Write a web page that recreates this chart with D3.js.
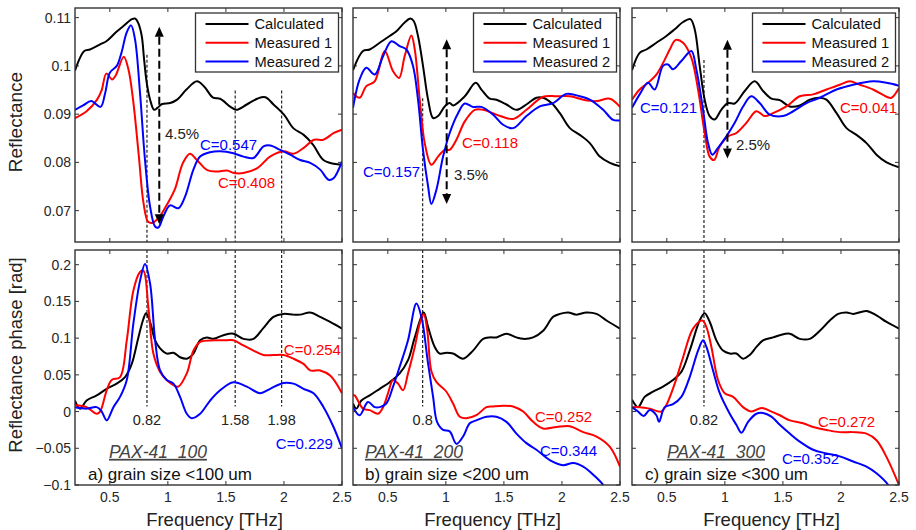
<!DOCTYPE html>
<html><head><meta charset="utf-8">
<script src="https://cdn.jsdelivr.net/npm/d3@7"></script>
<style>
html,body{margin:0;padding:0;background:#fff;}
svg{display:block;font-family:"Liberation Sans",Arial,Helvetica,sans-serif;}
</style></head>
<body><svg id="chart" width="916" height="530"></svg>
<script>
// ---------------- DATA ----------------
const seriesNames = ["Calculated", "Measured 1", "Measured 2"];
const freqTicks = [0.5, 1, 1.5, 2, 2.5];
const reflTicks = [0.07, 0.08, 0.09, 0.1, 0.11];
const phaseTicks = [-0.1, -0.05, 0, 0.05, 0.1, 0.15, 0.2];
const freqDomain = [0.2, 2.5];
const reflDomain = [0.0635, 0.112];
const phaseDomain = [-0.1, 0.22];

// Panel a: reflectance [freq THz, value]
const reflA_calc = [[0.20,0.0990],[0.24,0.1015],[0.28,0.1031],[0.33,0.1034],[0.42,0.1045],[0.47,0.1051],[0.55,0.1069],[0.62,0.1083],[0.69,0.1097],[0.72,0.1098],[0.746,0.1088],[0.775,0.1062],[0.795,0.1014],[0.818,0.0965],[0.847,0.0930],[0.881,0.0909],[0.91,0.0913],[0.95,0.0921],[1.02,0.0923],[1.08,0.0930],[1.16,0.0951],[1.25,0.0968],[1.31,0.0958],[1.39,0.0934],[1.45,0.0932],[1.54,0.0915],[1.59,0.0909],[1.68,0.0920],[1.77,0.0932],[1.84,0.0935],[1.91,0.0920],[2.00,0.0899],[2.08,0.0871],[2.17,0.0857],[2.25,0.0837],[2.34,0.0805],[2.43,0.0797],[2.50,0.0795]];
const reflA_m1 = [[0.20,0.0892],[0.30,0.0906],[0.39,0.0930],[0.43,0.0950],[0.47,0.0984],[0.52,0.0972],[0.55,0.0980],[0.62,0.1019],[0.66,0.0993],[0.70,0.0930],[0.75,0.0813],[0.79,0.0716],[0.83,0.0677],[0.87,0.0675],[0.93,0.0688],[1.00,0.0716],[1.06,0.0744],[1.13,0.0799],[1.19,0.0818],[1.25,0.0805],[1.34,0.0784],[1.42,0.0781],[1.51,0.0783],[1.57,0.0778],[1.65,0.0778],[1.77,0.0788],[1.88,0.0812],[2.00,0.0823],[2.08,0.0818],[2.17,0.0830],[2.26,0.0847],[2.34,0.0847],[2.43,0.0861],[2.50,0.0868]];
const reflA_m2 = [[0.20,0.0909],[0.27,0.0918],[0.34,0.0927],[0.42,0.0915],[0.46,0.0944],[0.50,0.0986],[0.56,0.1000],[0.60,0.1027],[0.645,0.1069],[0.683,0.1084],[0.717,0.1055],[0.76,0.0944],[0.803,0.0805],[0.847,0.0708],[0.89,0.0667],[0.918,0.0665],[0.961,0.0688],[1.019,0.0711],[1.091,0.0705],[1.148,0.0729],[1.22,0.0785],[1.278,0.0812],[1.364,0.0821],[1.45,0.0823],[1.565,0.0819],[1.651,0.0812],[1.737,0.0809],[1.824,0.0833],[1.881,0.0835],[1.967,0.0826],[2.053,0.0816],[2.14,0.0805],[2.226,0.0799],[2.312,0.0785],[2.384,0.0764],[2.427,0.0767],[2.5,0.0802]];
// Panel b: reflectance
const reflB_calc = [[0.2,0.0991],[0.286,0.1031],[0.344,0.1034],[0.43,0.1048],[0.516,0.1062],[0.574,0.1072],[0.645,0.1090],[0.694,0.1098],[0.723,0.1093],[0.76,0.1062],[0.803,0.1000],[0.847,0.0930],[0.89,0.0892],[0.933,0.0896],[0.99,0.0916],[1.033,0.0923],[1.062,0.0918],[1.163,0.0937],[1.257,0.0965],[1.306,0.0951],[1.378,0.0932],[1.436,0.0930],[1.522,0.0920],[1.608,0.0909],[1.694,0.0920],[1.78,0.0934],[1.838,0.0934],[1.91,0.0923],[1.982,0.0902],[2.068,0.0871],[2.154,0.0857],[2.24,0.0840],[2.326,0.0812],[2.413,0.0799],[2.5,0.0792]];
const reflB_m1 = [[0.2,0.0944],[0.257,0.0934],[0.315,0.0958],[0.387,0.0968],[0.473,0.1031],[0.545,0.0989],[0.597,0.0975],[0.645,0.1020],[0.703,0.1063],[0.732,0.1034],[0.775,0.0930],[0.818,0.0840],[0.875,0.0795],[0.933,0.0812],[0.99,0.0826],[1.033,0.0826],[1.091,0.0847],[1.163,0.0885],[1.249,0.0909],[1.321,0.0909],[1.436,0.0899],[1.579,0.0890],[1.694,0.0909],[1.838,0.0936],[1.953,0.0937],[2.068,0.0937],[2.183,0.0930],[2.298,0.0927],[2.413,0.0932],[2.5,0.0915]];
const reflB_m2 = [[0.2,0.0913],[0.257,0.0972],[0.315,0.0996],[0.387,0.0982],[0.459,0.1020],[0.531,0.1051],[0.602,0.1041],[0.66,0.1034],[0.717,0.1000],[0.76,0.0930],[0.803,0.0826],[0.847,0.0750],[0.875,0.0714],[0.918,0.0743],[0.976,0.0812],[1.033,0.0861],[1.105,0.0902],[1.163,0.0922],[1.234,0.0915],[1.306,0.0915],[1.407,0.0899],[1.493,0.0878],[1.579,0.0871],[1.694,0.0896],[1.809,0.0916],[1.924,0.0923],[2.039,0.0942],[2.154,0.0937],[2.24,0.0930],[2.355,0.0909],[2.441,0.0888],[2.5,0.0887]];
// Panel c: reflectance
const reflC_calc = [[0.2,0.0991],[0.266,0.1027],[0.324,0.1034],[0.41,0.1048],[0.496,0.1062],[0.568,0.1076],[0.64,0.1091],[0.703,0.1097],[0.74,0.1076],[0.783,0.1000],[0.826,0.0930],[0.869,0.0896],[0.912,0.0889],[0.969,0.0909],[1.027,0.0923],[1.084,0.0922],[1.171,0.0948],[1.257,0.0968],[1.329,0.0948],[1.401,0.0932],[1.473,0.0929],[1.559,0.0916],[1.645,0.0918],[1.732,0.0930],[1.818,0.0934],[1.875,0.0930],[1.962,0.0902],[2.048,0.0871],[2.134,0.0857],[2.22,0.0840],[2.306,0.0816],[2.393,0.0800],[2.5,0.0790]];
const reflC_m1 = [[0.2,0.0930],[0.266,0.0951],[0.338,0.0965],[0.41,0.0982],[0.482,0.1013],[0.525,0.1034],[0.577,0.1054],[0.64,0.1048],[0.711,0.1017],[0.769,0.0951],[0.826,0.0861],[0.869,0.0812],[0.907,0.0805],[0.955,0.0833],[1.027,0.0854],[1.099,0.0861],[1.185,0.0882],[1.271,0.0906],[1.343,0.0896],[1.415,0.0902],[1.53,0.0916],[1.645,0.0937],[1.76,0.0941],[1.875,0.0951],[1.99,0.0961],[2.076,0.0968],[2.162,0.0961],[2.277,0.0951],[2.393,0.0936],[2.436,0.0934],[2.5,0.0954]];
const reflC_m2 = [[0.2,0.0913],[0.266,0.0941],[0.338,0.0965],[0.395,0.0951],[0.467,0.1000],[0.51,0.1003],[0.553,0.0993],[0.625,0.1010],[0.711,0.1031],[0.754,0.0993],[0.812,0.0909],[0.855,0.0840],[0.892,0.0816],[0.941,0.0830],[1.013,0.0854],[1.085,0.0882],[1.157,0.0916],[1.228,0.0937],[1.3,0.0923],[1.387,0.0899],[1.502,0.0896],[1.588,0.0906],[1.703,0.0923],[1.818,0.0934],[1.962,0.0951],[2.105,0.0961],[2.278,0.0968],[2.393,0.0965],[2.5,0.0959]];
// Panel a: phase [rad]
const phaseA_calc = [[0.2,0.015],[0.243,0.004],[0.3,0.015],[0.387,0.022],[0.473,0.031],[0.559,0.038],[0.631,0.047],[0.689,0.065],[0.746,0.101],[0.789,0.126],[0.812,0.134],[0.847,0.122],[0.89,0.097],[0.933,0.086],[0.99,0.079],[1.048,0.080],[1.105,0.074],[1.163,0.072],[1.22,0.079],[1.278,0.097],[1.335,0.101],[1.393,0.099],[1.479,0.104],[1.565,0.106],[1.651,0.099],[1.737,0.099],[1.824,0.114],[1.91,0.129],[1.996,0.133],[2.082,0.132],[2.14,0.132],[2.226,0.135],[2.312,0.129],[2.398,0.122],[2.5,0.113]];
const phaseA_m1 = [[0.2,0.009],[0.3,0.006],[0.387,-0.003],[0.416,0.000],[0.473,0.029],[0.516,0.043],[0.588,0.047],[0.646,0.097],[0.703,0.165],[0.76,0.190],[0.789,0.192],[0.832,0.142],[0.875,0.079],[0.933,0.054],[0.99,0.043],[1.048,0.036],[1.09,0.034],[1.163,0.052],[1.22,0.083],[1.278,0.095],[1.393,0.097],[1.479,0.097],[1.565,0.097],[1.651,0.090],[1.737,0.083],[1.824,0.077],[1.91,0.077],[1.996,0.077],[2.082,0.072],[2.168,0.065],[2.226,0.056],[2.312,0.056],[2.398,0.049],[2.5,0.025]];
const phaseA_m2 = [[0.2,0.006],[0.3,0.004],[0.387,0.006],[0.43,0.000],[0.473,-0.012],[0.531,0.006],[0.588,0.020],[0.646,0.043],[0.703,0.120],[0.76,0.178],[0.803,0.201],[0.847,0.174],[0.89,0.097],[0.933,0.056],[0.99,0.043],[1.048,0.038],[1.105,0.020],[1.163,-0.003],[1.206,-0.009],[1.278,-0.003],[1.364,0.015],[1.45,0.029],[1.565,0.040],[1.68,0.034],[1.795,0.025],[1.881,0.031],[1.996,0.039],[2.082,0.038],[2.168,0.031],[2.255,0.025],[2.341,0.006],[2.427,-0.021],[2.5,-0.050]];
// Panel b: phase
const phaseB_calc = [[0.2,0.011],[0.229,0.004],[0.272,0.015],[0.344,0.022],[0.43,0.031],[0.516,0.040],[0.602,0.052],[0.674,0.070],[0.732,0.101],[0.809,0.135],[0.847,0.115],[0.904,0.088],[0.947,0.079],[1.005,0.080],[1.062,0.079],[1.148,0.072],[1.234,0.083],[1.321,0.099],[1.378,0.101],[1.436,0.101],[1.522,0.106],[1.608,0.101],[1.666,0.099],[1.752,0.101],[1.838,0.110],[1.924,0.129],[1.982,0.133],[2.053,0.135],[2.125,0.132],[2.211,0.135],[2.298,0.133],[2.384,0.124],[2.5,0.113]];
const phaseB_m1 = [[0.2,0.022],[0.214,0.022],[0.286,0.004],[0.344,0.002],[0.416,-0.003],[0.459,0.006],[0.502,0.025],[0.545,0.043],[0.588,0.038],[0.631,0.029],[0.674,0.052],[0.732,0.088],[0.775,0.120],[0.809,0.133],[0.84,0.110],[0.875,0.055],[0.92,0.040],[1.0,0.028],[1.062,0.011],[1.12,-0.007],[1.177,-0.009],[1.263,-0.005],[1.349,0.006],[1.407,0.007],[1.493,0.008],[1.579,0.007],[1.666,0.000],[1.752,-0.014],[1.838,-0.023],[1.953,-0.021],[2.068,-0.020],[2.183,-0.028],[2.298,-0.034],[2.413,-0.048],[2.5,-0.075]];
const phaseB_m2 = [[0.2,0.006],[0.257,-0.005],[0.329,0.013],[0.387,0.006],[0.43,0.006],[0.487,0.011],[0.545,0.034],[0.602,0.061],[0.674,0.097],[0.746,0.147],[0.789,0.129],[0.847,0.065],[0.89,0.020],[0.924,-0.014],[0.976,-0.025],[1.033,-0.027],[1.091,-0.044],[1.148,-0.034],[1.206,-0.016],[1.263,-0.012],[1.349,-0.007],[1.436,-0.007],[1.522,-0.014],[1.608,-0.030],[1.694,-0.043],[1.78,-0.052],[1.895,-0.066],[2.01,-0.073],[2.097,-0.070],[2.183,-0.075],[2.269,-0.086],[2.355,-0.100],[2.4,-0.115]];
// Panel c: phase
const phaseC_calc = [[0.2,0.016],[0.252,0.006],[0.309,0.020],[0.381,0.027],[0.467,0.034],[0.553,0.043],[0.625,0.054],[0.697,0.083],[0.783,0.124],[0.826,0.134],[0.87,0.122],[0.927,0.097],[0.984,0.083],[1.042,0.079],[1.099,0.079],[1.157,0.072],[1.214,0.077],[1.272,0.088],[1.329,0.097],[1.416,0.101],[1.473,0.104],[1.559,0.106],[1.645,0.099],[1.732,0.099],[1.818,0.110],[1.904,0.124],[1.976,0.133],[2.048,0.135],[2.105,0.133],[2.22,0.137],[2.306,0.131],[2.393,0.122],[2.5,0.113]];
const phaseC_m1 = [[0.2,0.006],[0.266,0.006],[0.352,0.004],[0.453,0.000],[0.496,0.009],[0.568,0.038],[0.64,0.074],[0.726,0.113],[0.806,0.124],[0.841,0.115],[0.884,0.088],[0.941,0.043],[0.999,0.025],[1.071,0.020],[1.157,0.006],[1.229,0.000],[1.315,0.005],[1.387,0.001],[1.473,-0.005],[1.559,-0.012],[1.674,-0.016],[1.76,-0.021],[1.875,-0.025],[1.99,-0.028],[2.105,-0.028],[2.22,-0.030],[2.306,-0.039],[2.393,-0.062],[2.5,-0.100]];
const phaseC_m2 = [[0.2,0.006],[0.252,0.000],[0.301,-0.006],[0.352,0.002],[0.41,-0.005],[0.433,-0.014],[0.482,0.006],[0.553,0.010],[0.625,0.020],[0.697,0.047],[0.769,0.083],[0.812,0.097],[0.841,0.088],[0.898,0.056],[0.956,0.025],[1.042,-0.003],[1.099,-0.018],[1.143,-0.029],[1.2,-0.014],[1.272,-0.003],[1.329,-0.002],[1.401,-0.007],[1.473,-0.018],[1.559,-0.030],[1.645,-0.041],[1.76,-0.052],[1.875,-0.057],[1.99,-0.061],[2.105,-0.068],[2.22,-0.075],[2.306,-0.084],[2.407,-0.100],[2.45,-0.115]];

// Resonance markers (THz) with labels
const markersA = [0.82, 1.58, 1.98];
const markersB = [0.8];
const markersC = [0.82];
const markerLabelsA = ["0.82", "1.58", "1.98"];
const markerLabelsB = ["0.8"];
const markerLabelsC = ["0.82"];
// Reflectance drop arrows: [freq, top value, bottom value]
const dropArrows = [[0.926, 0.1081, 0.0672], [1.007, 0.1055, 0.0714], [1.022, 0.1054, 0.0808]];
const dropLabels = ["4.5%", "3.5%", "2.5%"];
const sampleNames = ["PAX-41_100", "PAX-41_200", "PAX-41_300"];
const sampleDesc = ["a) grain size <100 um", "b) grain size <200 um", "c) grain size <300 um"];
const reflCorr = [["0.408", "0.547"], ["0.118", "0.157"], ["0.041", "0.121"]];
const phaseCorr = [["0.254", "0.229"], ["0.252", "0.344"], ["0.272", "0.352"]];

// ---------------- LAYOUT / STYLE ----------------
const colors = ["#000000", "#ff0000", "#0000ff"];
const frameColor = "#333333";
const W = 267, topY = [8, 242], botY = [250, 485];
const lefts = [75, 353, 632];

const panels = [
  {refl:[reflA_calc, reflA_m1, reflA_m2], phase:[phaseA_calc, phaseA_m1, phaseA_m2], markers:markersA, mlabels:markerLabelsA, mTopStart:[0.1023,0.0949,0.0949],
   reflText:[{f:1.432,v:0.0747,anchor:"start"},{f:1.277,v:0.0826,anchor:"start"}], dropText:{f:0.975,v:0.0848},
   phaseText:[{f:2.491,v:0.077,anchor:"end"},{f:2.422,v:-0.051,anchor:"end"}], nameF:0.493, descF:0.312},
  {refl:[reflB_calc, reflB_m1, reflB_m2], phase:[phaseB_calc, phaseB_m1, phaseB_m2], markers:markersB, mlabels:markerLabelsB, mTopStart:[0.0933],
   reflText:[{f:1.139,v:0.0830,anchor:"start"},{f:0.286,v:0.0770,anchor:"start"}], dropText:{f:1.07,v:0.0764},
   phaseText:[{f:1.768,v:-0.014,anchor:"start"},{f:1.811,v:-0.061,anchor:"start"}], nameF:0.303, descF:0.303},
  {refl:[reflC_calc, reflC_m1, reflC_m2], phase:[phaseC_calc, phaseC_m1, phaseC_m2], markers:markersC, mlabels:markerLabelsC, mTopStart:[0.1012],
   reflText:[{f:2.483,v:0.0902,anchor:"end"},{f:0.269,v:0.0902,anchor:"start"}], dropText:{f:1.096,v:0.0826},
   phaseText:[{f:1.802,v:-0.021,anchor:"start"},{f:1.492,v:-0.071,anchor:"start"}], nameF:0.501, descF:0.312}
];

const svg = d3.select("#chart");
const defs = svg.append("defs");

function drawFrame(g, x, y, xTicks, yTicks, showXLabels, showYLabels, yFmt) {
  const [x0, x1] = x.range(), [y1, y0] = y.range();
  const tl = 4;
  const tg = g.append("g").attr("stroke", frameColor).attr("stroke-width", 1);
  xTicks.forEach(t => {
    const px = x(t);
    tg.append("line").attr("x1", px).attr("x2", px).attr("y1", y1).attr("y2", y1 - tl);
    tg.append("line").attr("x1", px).attr("x2", px).attr("y1", y0).attr("y2", y0 + tl);
  });
  yTicks.forEach(t => {
    const py = y(t);
    tg.append("line").attr("x1", x0).attr("x2", x0 + tl).attr("y1", py).attr("y2", py);
    tg.append("line").attr("x1", x1).attr("x2", x1 - tl).attr("y1", py).attr("y2", py);
  });
  g.append("rect").attr("x", x0).attr("y", y0).attr("width", x1 - x0).attr("height", y1 - y0)
    .attr("fill", "none").attr("stroke", frameColor).attr("stroke-width", 1.4);
  if (showXLabels) {
    g.append("g").selectAll("text").data(xTicks).join("text")
      .attr("x", d => x(d)).attr("y", y1 + 17).attr("text-anchor", "middle")
      .attr("font-size", 14).attr("fill", "#262626").text(d => d3.format("~g")(d));
  }
  if (showYLabels) {
    g.append("g").selectAll("text").data(yTicks).join("text")
      .attr("x", x0 - 4).attr("y", d => y(d) + 5).attr("text-anchor", "end")
      .attr("font-size", 14).attr("fill", "#262626").text(d => yFmt(d));
  }
}

const lineGen = (x, y) => d3.line().x(d => x(d[0])).y(d => y(d[1])).curve(d3.curveCatmullRom.alpha(0.5));

panels.forEach((p, i) => {
  const L = lefts[i];
  const x = d3.scaleLinear().domain(freqDomain).range([L, L + W]);
  const yR = d3.scaleLinear().domain(reflDomain).range([topY[1], topY[0]]);
  const yP = d3.scaleLinear().domain(phaseDomain).range([botY[1], botY[0]]);

  // clip paths
  defs.append("clipPath").attr("id", "ct" + i).append("rect")
    .attr("x", L).attr("y", topY[0]).attr("width", W).attr("height", topY[1] - topY[0]);
  defs.append("clipPath").attr("id", "cb" + i).append("rect")
    .attr("x", L).attr("y", botY[0]).attr("width", W).attr("height", botY[1] - botY[0]);

  // ---- TOP: reflectance ----
  const gt = svg.append("g");
  const gtc = gt.append("g").attr("clip-path", `url(#ct${i})`);
  p.markers.forEach((m, k) => {
    gtc.append("line").attr("x1", x(m)).attr("x2", x(m)).attr("y1", yR(p.mTopStart[k])).attr("y2", yR(reflDomain[0]))
      .attr("stroke", "#222").attr("stroke-width", 1.2).attr("stroke-dasharray", "3,2");
  });
  p.refl.forEach((s, k) => {
    gtc.append("path").datum(s).attr("d", lineGen(x, yR)).attr("fill", "none")
      .attr("stroke", colors[k]).attr("stroke-width", 2);
  });
  // arrow
  const [af, atop, abot] = dropArrows[i];
  const ax = x(af), ay1 = yR(atop), ay2 = yR(abot), ah = 10, aw = 4.5;
  gt.append("line").attr("x1", ax).attr("x2", ax).attr("y1", ay1 + ah).attr("y2", ay2 - ah)
    .attr("stroke", "#000").attr("stroke-width", 2).attr("stroke-dasharray", "8,4");
  gt.append("path").attr("d", `M${ax},${ay1} L${ax - aw},${ay1 + ah} L${ax + aw},${ay1 + ah} Z`).attr("fill", "#000");
  gt.append("path").attr("d", `M${ax},${ay2} L${ax - aw},${ay2 - ah} L${ax + aw},${ay2 - ah} Z`).attr("fill", "#000");
  gt.append("text").attr("x", x(p.dropText.f)).attr("y", yR(p.dropText.v)).attr("font-size", 15)
    .attr("fill", "#222").text(dropLabels[i]);
  // correlation labels
  p.reflText.forEach((t, k) => {
    gt.append("text").attr("x", x(t.f)).attr("y", yR(t.v)).attr("text-anchor", t.anchor)
      .attr("font-size", 15).attr("fill", colors[k + 1]).text("C=" + reflCorr[i][k]);
  });
  drawFrame(gt, x, yR, freqTicks, reflTicks, false, i === 0, d => d3.format("~g")(d));

  // legend
  const lw = 143, lh = 59, lx = L + W - 3.5 - lw, ly = 13;
  const lg = gt.append("g");
  lg.append("rect").attr("x", lx).attr("y", ly).attr("width", lw).attr("height", lh)
    .attr("fill", "#fff").attr("stroke", frameColor).attr("stroke-width", 1.3);
  seriesNames.forEach((n, k) => {
    const ry = ly + 11 + k * 18.7;
    lg.append("line").attr("x1", lx + 10).attr("x2", lx + 53).attr("y1", ry).attr("y2", ry)
      .attr("stroke", colors[k]).attr("stroke-width", 2);
    lg.append("text").attr("x", lx + 59).attr("y", ry + 5.3).attr("font-size", 14.7).attr("fill", "#111").text(n);
  });

  // ---- BOTTOM: phase ----
  const gb = svg.append("g");
  const gbc = gb.append("g").attr("clip-path", `url(#cb${i})`);
  p.markers.forEach((m, k) => {
    gbc.append("line").attr("x1", x(m)).attr("x2", x(m)).attr("y1", yP(phaseDomain[1])).attr("y2", yP(0.007))
      .attr("stroke", "#222").attr("stroke-width", 1.2).attr("stroke-dasharray", "3,2");
    gb.append("text").attr("x", x(m)).attr("y", yP(-0.018)).attr("text-anchor", "middle")
      .attr("font-size", 14.5).attr("fill", "#222").text(p.mlabels[k]);
  });
  p.phase.forEach((s, k) => {
    gbc.append("path").datum(s).attr("d", lineGen(x, yP)).attr("fill", "none")
      .attr("stroke", colors[k]).attr("stroke-width", 2);
  });
  p.phaseText.forEach((t, k) => {
    gb.append("text").attr("x", x(t.f)).attr("y", yP(t.v)).attr("text-anchor", t.anchor)
      .attr("font-size", 15).attr("fill", colors[k + 1]).text("C=" + phaseCorr[i][k]);
  });
  gb.append("text").attr("x", x(p.nameF)).attr("y", yP(-0.063)).attr("font-size", 17.5)
    .attr("font-style", "italic").attr("fill", "#444").style("text-decoration", "underline").text(sampleNames[i]);
  gb.append("text").attr("x", x(p.descF)).attr("y", yP(-0.093)).attr("font-size", 17)
    .attr("fill", "#111").text(sampleDesc[i]);
  drawFrame(gb, x, yP, freqTicks, phaseTicks, true, i === 0, d => d3.format("~g")(d));

  // x axis title
  svg.append("text").attr("x", L + W / 2 + 6).attr("y", 526).attr("text-anchor", "middle")
    .attr("font-size", 18.5).attr("fill", "#222").text("Frequency [THz]");
});

// y axis titles
svg.append("text").attr("transform", "translate(22,122) rotate(-90)").attr("text-anchor", "middle")
  .attr("font-size", 19).attr("fill", "#222").text("Reflectance");
svg.append("text").attr("transform", "translate(22,355) rotate(-90)").attr("text-anchor", "middle")
  .attr("font-size", 18.5).attr("fill", "#222").text("Reflectance phase [rad]");
</script>
</body></html>
